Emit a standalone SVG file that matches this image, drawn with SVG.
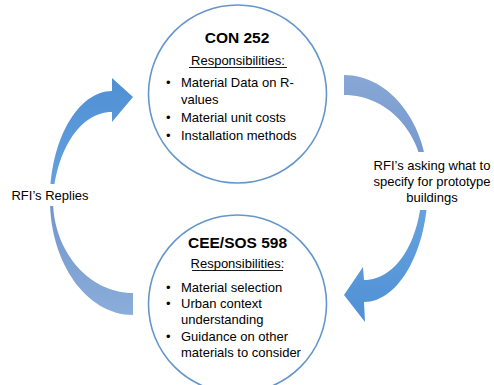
<svg xmlns="http://www.w3.org/2000/svg" width="494" height="385" viewBox="0 0 494 385">
<defs>
<linearGradient id="bright" x1="0" y1="0" x2="0" y2="1">
<stop offset="0" stop-color="#4f8fd4"/>
<stop offset="1" stop-color="#66a3e0"/>
</linearGradient>
<linearGradient id="dull" x1="0" y1="0" x2="0" y2="1">
<stop offset="0" stop-color="#7095cc"/>
<stop offset="1" stop-color="#8badda"/>
</linearGradient>
<linearGradient id="dull2" x1="0" y1="0" x2="0" y2="1">
<stop offset="0" stop-color="#88a7d6"/>
<stop offset="1" stop-color="#6e93cb"/>
</linearGradient>
<linearGradient id="bright2" x1="0" y1="0" x2="0" y2="1">
<stop offset="0" stop-color="#6aa6e0"/>
<stop offset="1" stop-color="#4f90d5"/>
</linearGradient>
</defs>
<style>
.node circle{fill:#ffffff;stroke:#6496cc;stroke-width:1.6}
text{font-family:"Liberation Sans",Arial,sans-serif;fill:#000000}
.title{font-size:15.5px;font-weight:bold;text-anchor:middle}
.head{font-size:13px;text-anchor:middle}
.item{font-size:13px}
.lbl{font-size:13px;text-anchor:middle}
.ul{stroke:#000000;stroke-width:0.9}
</style>
<g id="connectors">
<g id="arrow-left">
<path d="M50,200 C50,263 87,315 133,315 L133,293 C89,293 53,251 53,200 Z" fill="url(#dull)"/>
<path d="M112,91 C78,91 50,140 50,200 L53,200 C55,155 78,112 112,112 L112,122 L133,97 L112,78 Z" fill="url(#bright)"/>
<rect x="8" y="184" width="86" height="22" fill="#ffffff"/>
<text class="lbl" x="50" y="200">RFI’s Replies</text>
</g>
<g id="arrow-right">
<path d="M344,75 C390,75 428,124 428,185 L424,185 C424,135 389,95 344,95 Z" fill="url(#dull2)"/>
<path d="M428,185 C428,250 399,302 364,302 L365,322 L344,295 L363,267 L364,280 C398,280 422,237 422,185 Z" fill="url(#bright2)"/>
<rect x="366" y="152" width="128" height="58" fill="#ffffff"/>
<text class="lbl" x="432" y="170">RFI’s asking what to</text>
<text class="lbl" x="432" y="186">specify for prototype</text>
<text class="lbl" x="432" y="202">buildings</text>
</g>
</g>
<g id="con252" class="node">
<circle cx="237.5" cy="94" r="89"/>
<text class="title" x="237" y="43">CON 252</text>
<text class="head" x="238" y="65">Responsibilities:</text>
<line class="ul" x1="189" y1="67.5" x2="287" y2="67.5"/>
<text class="item" x="166" y="87">•</text>
<text class="item" x="181" y="87">Material Data on R-</text>
<text class="item" x="181" y="104">values</text>
<text class="item" x="166" y="122">•</text>
<text class="item" x="181" y="122">Material unit costs</text>
<text class="item" x="166" y="140">•</text>
<text class="item" x="181" y="140">Installation methods</text>
</g>
<g id="cee598" class="node">
<circle cx="237.5" cy="304" r="89"/>
<text class="title" x="237.5" y="248">CEE/SOS 598</text>
<text class="head" x="237.5" y="268">Responsibilities:</text>
<line class="ul" x1="192" y1="270.5" x2="283" y2="270.5"/>
<text class="item" x="166" y="292">•</text>
<text class="item" x="181" y="292">Material selection</text>
<text class="item" x="166" y="308">•</text>
<text class="item" x="181" y="308">Urban context</text>
<text class="item" x="181" y="324">understanding</text>
<text class="item" x="166" y="341">•</text>
<text class="item" x="181" y="341">Guidance on other</text>
<text class="item" x="181" y="357">materials to consider</text>
</g>
</svg>
